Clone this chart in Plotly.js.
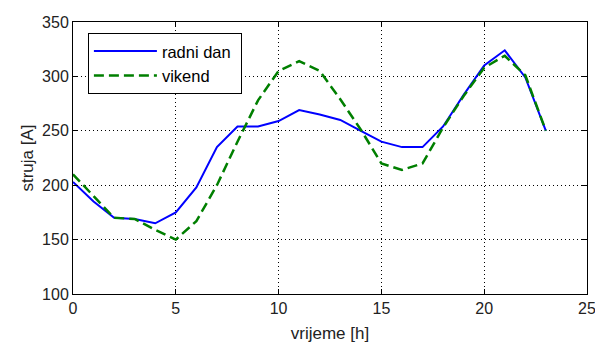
<!DOCTYPE html>
<html><head><meta charset="utf-8">
<script src="https://cdn.plot.ly/plotly-3.0.1.min.js"></script>
<style>html,body{margin:0;padding:0;background:#fff}#chart{width:595px;height:343px}</style>
</head><body><div id="chart"></div>
<script>
const hours = [0,1,2,3,4,5,6,7,8,9,10,11,12,13,14,15,16,17,18,19,20,21,22,23];
const radniDan = [203,185,170,169,165,175,198,235,254,254,259,269,265,260,250,240,235,235,254,283,310,324,299,250];
const vikend = [210,190,170,169,159,150,167,200,240,278,305,314,305,279,251,220,214,220,253,282,308,319,301,250];
const xTicks = [0,5,10,15,20,25];
const yTicks = [100,150,200,250,300,350];
const seriesNames = ['radni dan', 'vikend'];

const FONT = 'Liberation Sans, Arial, sans-serif';
const pad = '\u00a0';
const traces = [
  {x: hours, y: radniDan, name: seriesNames[0] + pad, type: 'scatter', mode: 'lines',
   line: {color: '#0000ff', width: 2}},
  {x: hours, y: vikend, name: seriesNames[1], type: 'scatter', mode: 'lines',
   line: {color: '#007f00', width: 2.5, dash: '10px,5px'}}
];
const axisCommon = {
  showline: true, linecolor: '#000', linewidth: 1, mirror: 'ticks',
  ticks: 'inside', ticklen: 5, tickcolor: '#000',
  showgrid: true, gridcolor: '#000', griddash: '1px,3px', gridwidth: 1,
  zeroline: false, ticklabeloverflow: 'allow',
  tickfont: {family: FONT, size: 16, color: '#222'}
};
const layout = {
  width: 595, height: 343,
  margin: {l: 73, r: 8, t: 22, b: 49},
  paper_bgcolor: '#fff', plot_bgcolor: '#fff',
  showlegend: true,
  legend: {x: 0.029, y: 0.96, xanchor: 'left', yanchor: 'top',
    bordercolor: '#000', borderwidth: 1, bgcolor: '#fff',
    itemwidth: 63, tracegroupgap: 0,
    font: {family: FONT, size: 16.5, color: '#000'}},
  xaxis: Object.assign({}, axisCommon, {range: [0, 25], tickvals: xTicks,
    title: {text: 'vrijeme [h]', standoff: 12, font: {family: FONT, size: 17, color: '#222'}}}),
  yaxis: Object.assign({}, axisCommon, {range: [100, 350], tickvals: yTicks,
    title: {text: 'struja [A]', standoff: 4, font: {family: FONT, size: 17, color: '#222'}}})
};
Plotly.newPlot('chart', traces, layout, {displayModeBar: false, staticPlot: true});
</script>
</body></html>
